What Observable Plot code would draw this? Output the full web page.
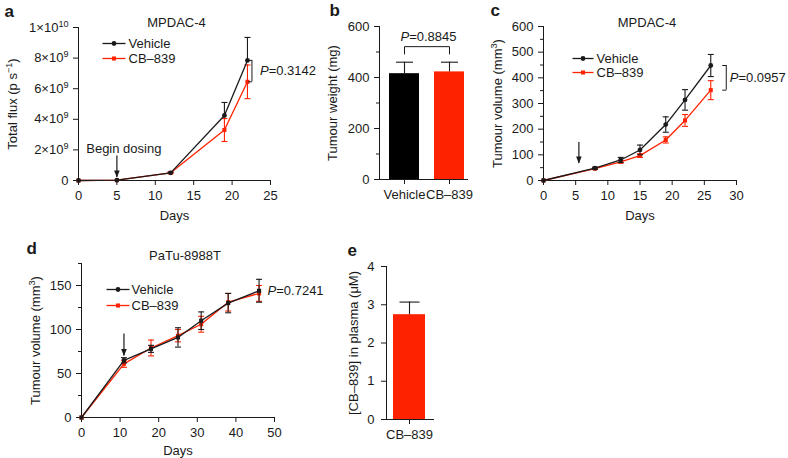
<!DOCTYPE html>
<html><head><meta charset="utf-8">
<script src="https://cdn.jsdelivr.net/npm/d3@7"></script>
<script src="https://cdn.jsdelivr.net/npm/@observablehq/plot@0.6"></script>
<style>
body{margin:0;background:#fff;}
#fig{position:relative;width:788px;height:458px;background:#fff;overflow:hidden;}
#fig svg{position:absolute;overflow:visible;}
</style></head><body><div id="fig"></div>
<script>
// ---------- data ----------
// panel a
const aDays = [0, 5, 12, 19, 22];
const aVehicle = [0, 0.02e9, 0.5e9, 4.25e9, 7.85e9];
const aVehicleErr = [0, 0, 0.05e9, 0.85e9, 1.5e9];
const aCB = [0, 0.02e9, 0.5e9, 3.3e9, 6.45e9];
const aCBErr = [0, 0, 0.05e9, 0.75e9, 1.1e9];
const aXTicks = [0, 5, 10, 15, 20, 25];
const aYTicks = [0, 2e9, 4e9, 6e9, 8e9, 1e10];
const aYTickLabels = ["0", "2×10^{9}", "4×10^{9}", "6×10^{9}", "8×10^{9}", "1×10^{10}"];
const aP = "P=0.3142";
// panel b
const bCats = ["Vehicle", "CB–839"];
const bValues = [415, 422];
const bErr = [45, 38];
const bYTicks = [0, 200, 400, 600];
const bYMinor = [100, 300, 500];
const bP = "P=0.8845";
// panel c
const cDays = [0, 8, 12, 15, 19, 22, 26];
const cVehicle = [0, 48, 80, 119, 218, 314, 448];
const cVehicleErr = [0, 4, 10, 19, 30, 40, 43];
const cCB = [0, 46, 73, 97, 158, 234, 352];
const cCBErr = [0, 3, 5, 7, 12, 23, 37];
const cXTicks = [0, 5, 10, 15, 20, 25, 30];
const cYTicks = [0, 100, 200, 300, 400, 500, 600];
const cYMinor = [50, 150, 250, 350, 450, 550];
const cP = "P=0.0957";
// panel d
const dDays = [0, 11, 18, 25, 31, 38, 46];
const dVehicle = [0, 65, 78, 91, 110, 130, 144];
const dVehicleErr = [0, 3, 4, 11, 10, 11, 13];
const dCB = [0, 61, 79, 93, 106, 131, 141];
const dCBErr = [0, 4, 9, 7, 9, 10, 9];
const dXTicks = [0, 10, 20, 30, 40, 50];
const dYTicks = [0, 50, 100, 150];
const dYMinor = [25, 75, 125, 175];
const dP = "P=0.7241";
// panel e
const eCats = ["CB–839"];
const eValues = [2.74];
const eErr = [0.33];
const eYTicks = [0, 1, 2, 3, 4];

// ---------- styling helpers ----------
const RED = "#ff2200";
const INK = "#1a1a1a";
const FONT = "Liberation Sans, Arial, Helvetica, sans-serif";
const style = {fontFamily: FONT, fontSize: "13px", color: INK, background: "transparent", overflow: "visible"};

const hline = {draw(ctx, size) { const r = Math.sqrt(size / Math.PI); ctx.moveTo(-r, 0); ctx.lineTo(r, 0); }};
const lcap = {draw(ctx, size) { const r = Math.sqrt(size / Math.PI); ctx.moveTo(-r, 0); ctx.lineTo(0, 0); }};
const downHead = {draw(ctx) { ctx.moveTo(-2.8, -7); ctx.lineTo(2.8, -7); ctx.lineTo(0, 0); ctx.closePath(); }};

function rows(days, vals, errs) {
  return days.map((d, i) => ({day: d, v: vals[i], lo: vals[i] - errs[i], hi: vals[i] + errs[i], e: errs[i]}));
}

function series(data, color, symbol, mode, capR = 3) {
  const withErr = data.filter(d => d.e > 0);
  const marks = [
    Plot.line(data, {x: "day", y: "v", stroke: color, strokeWidth: 1.3}),
    Plot.ruleX(withErr, {x: "day", y1: mode === "up" ? "v" : "lo", y2: mode === "down" ? "v" : "hi", stroke: color, strokeWidth: 1.1})
  ];
  if (mode !== "down") marks.push(Plot.dot(withErr, {x: "day", y: "hi", symbol: hline, r: capR, stroke: color, fill: "none", strokeWidth: 1.1}));
  if (mode !== "up") marks.push(Plot.dot(withErr, {x: "day", y: "lo", symbol: hline, r: capR, stroke: color, fill: "none", strokeWidth: 1.1}));
  marks.push(Plot.dot(data, {x: "day", y: "v", symbol, r: symbol === "square" ? 2.3 : 2.4, fill: color, stroke: "none"}));
  return marks;
}

function axes({xTicks, yTicks, yFmt, yMinor, ytPad = 5}) {
  const m = [
    Plot.frame({anchor: "left", stroke: INK, strokeWidth: 1}),
    Plot.frame({anchor: "bottom", stroke: INK, strokeWidth: 1}),
    Plot.axisX({ticks: xTicks, tickSize: 5, tickPadding: 5, label: null}),
    Plot.axisY({ticks: yTicks, tickSize: 5, tickPadding: ytPad, label: null, tickFormat: yFmt})
  ];
  if (yMinor) m.push(Plot.axisY({ticks: yMinor, tickSize: 3, label: null, tickFormat: () => ""}));
  return m;
}

function legend(dxLine, dyV, dyC, dxText, half) {
  const common = {frameAnchor: "top-left", fill: "none"};
  const txt = {frameAnchor: "top-left", lineAnchor: "middle", text: d => d, textAnchor: "start", fontSize: 13};
  return [
    Plot.dot([0], {...common, dx: dxLine, dy: dyV, symbol: hline, r: half, stroke: INK, strokeWidth: 1.3}),
    Plot.dot([0], {frameAnchor: "top-left", dx: dxLine, dy: dyV, r: 2.4, fill: INK}),
    Plot.text(["Vehicle"], {...txt, dx: dxText, dy: dyV}),
    Plot.dot([0], {...common, dx: dxLine, dy: dyC, symbol: hline, r: half, stroke: RED, strokeWidth: 1.3}),
    Plot.dot([0], {frameAnchor: "top-left", dx: dxLine, dy: dyC, r: 2.3, symbol: "square", fill: RED}),
    Plot.text(["CB–839"], {...txt, dx: dxText, dy: dyC})
  ];
}

function letter(s, dx, dy) {
  return Plot.text([s], {frameAnchor: "top-left", lineAnchor: "middle", dx, dy, text: d => d, textAnchor: "start", fontSize: 17, fontWeight: "bold"});
}
function ylabel(s, dx) {
  return Plot.text([s], {frameAnchor: "left", lineAnchor: "middle", dx, text: d => d, rotate: -90, textAnchor: "middle", fontSize: 13});
}
function title(s, dx, dy) {
  return Plot.text([s], {frameAnchor: "top", lineAnchor: "middle", dx, dy, text: d => d, fontSize: 13});
}
function xlabel(s, dy, dx = 0) {
  return Plot.text([s], {frameAnchor: "bottom", lineAnchor: "middle", dy, dx, text: d => d, fontSize: 13});
}
function bracket(day, y1, y2, dx) {
  return [
    Plot.ruleX([{day, y1, y2}], {x: "day", y1: "y1", y2: "y2", dx, stroke: INK, strokeWidth: 1}),
    Plot.dot([{day, y: y1}, {day, y: y2}], {x: "day", y: "y", dx, symbol: lcap, r: 4, stroke: INK, fill: "none", strokeWidth: 1})
  ];
}
function pText(s, day, y, dx) {
  return Plot.text([{day, y, s}], {x: "day", y: "y", text: "s", dx, textAnchor: "start", fontSize: 13});
}
function arrow(x, y1, y2) {
  return [
    Plot.ruleX([{x, y1, y2}], {x: "x", y1: "y1", y2: "y2", stroke: INK, strokeWidth: 1.2}),
    Plot.dot([{x, y: y2}], {x: "x", y: "y", symbol: downHead, fill: INK, stroke: "none"})
  ];
}
function fmt(ticks, labels) { const m = new Map(ticks.map((t, i) => [t, labels[i]])); return d => m.get(d); }

// rich text: ^{sup} and italic P
function richify(svg) {
  d3.select(svg).selectAll("text").each(function() {
    const el = this;
    if (el.querySelector("tspan")) return;
    const s = el.textContent;
    if (!/\^\{|P=/.test(s)) return;
    const parts = s.split(/(\^\{[^}]*\}|P(?==))/);
    el.textContent = "";
    for (const p of parts) {
      if (!p) continue;
      const t = d3.select(el).append("tspan");
      if (p.startsWith("^{")) t.attr("baseline-shift", "super").attr("font-size", "70%").text(p.slice(2, -1));
      else if (p === "P") t.attr("font-style", "italic").text("P");
      else t.text(p);
    }
  });
}

const fig = document.getElementById("fig");
function place(svg, left, top) { svg.style.left = left + "px"; svg.style.top = top + "px"; richify(svg); fig.appendChild(svg); }

// ---------- panel a ----------
const aV = rows(aDays, aVehicle, aVehicleErr), aC = rows(aDays, aCB, aCBErr);
const aLast = aDays.length - 1;
place(Plot.plot({
  width: 290, height: 225, marginLeft: 78, marginRight: 20, marginTop: 27, marginBottom: 45,
  style,
  x: {domain: [0, 25], label: null}, y: {domain: [0, 1e10], label: null},
  marks: [
    ...axes({xTicks: aXTicks, yTicks: aYTicks, yFmt: fmt(aYTicks, aYTickLabels)}),
    ...series(aC, RED, "square", "both"),
    ...series(aV, INK, "circle", "up"),
    ...bracket(aDays[aLast], aVehicle[aLast], aCB[aLast], 4.5),
    pText(aP, aDays[aLast], (aVehicle[aLast] + aCB[aLast]) / 2, 12.5),
    ...arrow(5, 1.6e9, 0.2e9),
    Plot.text([{x: 5.9, y: 2.1e9, s: "Begin dosing"}], {x: "x", y: "y", text: "s", fontSize: 13}),
    ...legend(35.5, 16, 31, 50, 11.5),
    title("MPDAC-4", 2, -4.5),
    letter("a", -74, -15.5),
    ylabel("Total flux (p s^{−1})", -66),
    xlabel("Days", 35)
  ]
}), 0, 0);

// ---------- panel b ----------
const bRows = bCats.map((c, i) => ({cat: c, v: bValues[i], hi: bValues[i] + bErr[i]}));
place(Plot.plot({
  width: 200, height: 225, marginLeft: 89, marginRight: 23, marginTop: 26, marginBottom: 46,
  style,
  x: {type: "band", domain: bCats, range: [99, 175], paddingInner: 0.333, paddingOuter: 0, label: null},
  y: {domain: [0, 600], label: null},
  marks: [
    Plot.barY([bRows[0]], {x: "cat", y: "v", fill: "#000"}),
    Plot.barY([bRows[1]], {x: "cat", y: "v", fill: RED}),
    Plot.ruleX(bRows, {x: "cat", y1: "v", y2: "hi", stroke: INK, strokeWidth: 1.1}),
    Plot.dot(bRows, {x: "cat", y: "hi", symbol: hline, r: 8.5, stroke: INK, fill: "none", strokeWidth: 1.1}),
    Plot.frame({anchor: "left", stroke: INK}),
    Plot.frame({anchor: "bottom", stroke: INK}),
    Plot.axisX({tickSize: 5, tickPadding: 5, label: null}),
    Plot.axisY({ticks: bYTicks, tickSize: 5, tickPadding: 5, label: null}),
    Plot.axisY({ticks: bYMinor, tickSize: 3, label: null, tickFormat: () => ""}),
    Plot.line([{c: bCats[0], y: 492}, {c: bCats[0], y: 521}, {c: bCats[1], y: 521}, {c: bCats[1], y: 492}], {x: "c", y: "y", stroke: INK, strokeWidth: 1}),
    Plot.text([bP], {frameAnchor: "top-left", lineAnchor: "middle", dx: 49, dy: 10, text: d => d, textAnchor: "middle", fontSize: 13}),
    letter("b", -50, -15.5),
    ylabel("Tumour weight (mg)", -47)
  ]
}), 290, 0);

// ---------- panel c ----------
const cV = rows(cDays, cVehicle, cVehicleErr), cC = rows(cDays, cCB, cCBErr);
const cLast = cDays.length - 1;
place(Plot.plot({
  width: 298, height: 225, marginLeft: 53, marginRight: 52, marginTop: 26, marginBottom: 45,
  style,
  x: {domain: [0, 30], label: null}, y: {domain: [0, 600], label: null},
  marks: [
    ...axes({xTicks: cXTicks, yTicks: cYTicks, yMinor: cYMinor}),
    ...series(cC, RED, "square", "both"),
    ...series(cV, INK, "circle", "both"),
    ...bracket(cDays[cLast], cVehicle[cLast], cCB[cLast], 15.5),
    pText(cP, cDays[cLast], (cVehicle[cLast] + cCB[cLast]) / 2, 19),
    ...arrow(5.5, 148, 66),
    ...legend(39.5, 32, 46, 53, 10.5),
    title("MPDAC-4", 7, -4),
    letter("c", -53, -16),
    ylabel("Tumour volume (mm^{3})", -46),
    xlabel("Days", 35)
  ]
}), 490, 0);

// ---------- panel d ----------
const dV = rows(dDays, dVehicle, dVehicleErr), dC = rows(dDays, dCB, dCBErr);
const dLast = dDays.length - 1;
place(Plot.plot({
  width: 300, height: 228, marginLeft: 81, marginRight: 26, marginTop: 33, marginBottom: 41,
  style,
  x: {domain: [0, 50], label: null}, y: {domain: [0, 175], label: null},
  marks: [
    ...axes({xTicks: dXTicks, yTicks: dYTicks, yMinor: dYMinor}),
    ...series(dC, RED, "square", "both"),
    ...series(dV, INK, "square", "both"),
    pText(dP, dDays[dLast], dVehicle[dLast], 8.5),
    ...arrow(11, 95, 70),
    ...legend(36.5, 26, 42, 50, 11.5),
    title("PaTu-8988T", 7, -8),
    letter("d", -55, -14.5),
    ylabel("Tumour volume (mm^{3})", -46),
    xlabel("Days", 33)
  ]
}), 0, 230);

// ---------- panel e ----------
const eRows = eCats.map((c, i) => ({cat: c, v: eValues[i], hi: eValues[i] + eErr[i]}));
place(Plot.plot({
  width: 150, height: 228, marginLeft: 86, marginRight: 17, marginTop: 36, marginBottom: 39,
  style,
  x: {type: "band", domain: eCats, range: [93, 125], padding: 0, label: null},
  y: {domain: [0, 4], label: null},
  marks: [
    Plot.barY(eRows, {x: "cat", y: "v", fill: RED}),
    Plot.ruleX(eRows, {x: "cat", y1: "v", y2: "hi", stroke: INK, strokeWidth: 1.1}),
    Plot.dot(eRows, {x: "cat", y: "hi", symbol: hline, r: 10, stroke: INK, fill: "none", strokeWidth: 1.1}),
    Plot.frame({anchor: "left", stroke: INK}),
    Plot.frame({anchor: "bottom", stroke: INK}),
    Plot.axisX({tickSize: 5, tickPadding: 5, label: null}),
    Plot.axisY({ticks: eYTicks, tickSize: 5, tickPadding: 7, label: null, tickFormat: d => String(d)}),
    letter("e", -39, -15.5),
    ylabel("[CB–839] in plasma (μM)", -33)
  ]
}), 300, 230);
</script></body></html>
